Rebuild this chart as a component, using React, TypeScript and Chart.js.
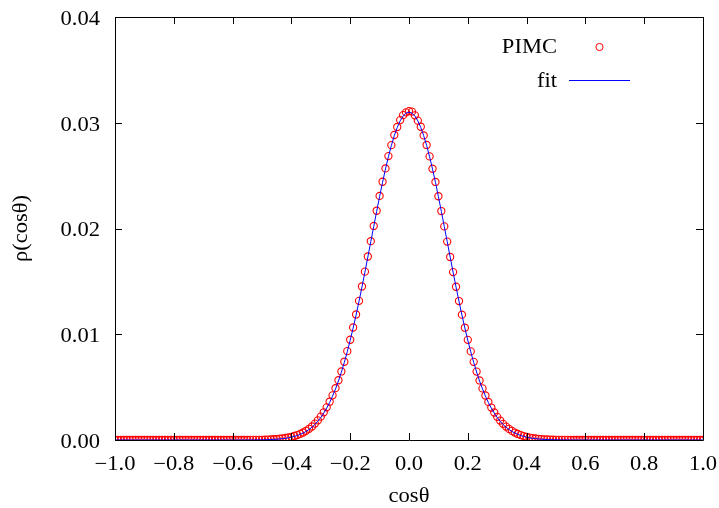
import React, { useEffect, useRef } from "react";
import { Chart, registerables } from "chart.js";

Chart.register(...registerables);

// sampling grid in cos(theta): -1.00 ... 1.00, step 0.01
const xStart = -1;
const xStep = 0.01;

// PIMC histogram values, cosθ = -1.00 ... 1.00
const pimcValues = [
  0, 0, 0, 0, 0, 0, 0, 0, 0, 0,
  0, 0, 0, 0, 0, 0, 0, 0, 0, 0,
  0, 0, 0, 0, 0, 0, 0, 0, 0, 0,
  0, 0, 0, 0, 0, 0, 0, 0, 0, 0,
  0, 0, 0, 0, 0,
  0.00000, 0.00001, 0.00001, 0.00001, 0.00002, 0.00002, 0.00003, 0.00004, 0.00005, 0.00007,
  0.00009, 0.00012, 0.00015, 0.00019, 0.00024, 0.00030, 0.00038, 0.00047, 0.00058, 0.00071,
  0.00087, 0.00106, 0.00128, 0.00155, 0.00186, 0.00221, 0.00262, 0.00309, 0.00362, 0.00422,
  0.00490, 0.00565, 0.00648, 0.00740, 0.00840, 0.00948, 0.01064, 0.01187, 0.01316, 0.01452,
  0.01592, 0.01735, 0.01880, 0.02024, 0.02168, 0.02308, 0.02442, 0.02568, 0.02685, 0.02788,
  0.02884, 0.02960, 0.03025, 0.03072, 0.03098,
  0.03110,
  0.03105, 0.03070, 0.03020, 0.02962, 0.02880, 0.02790, 0.02682, 0.02565, 0.02440, 0.02305,
  0.02165, 0.02020, 0.01876, 0.01731, 0.01588, 0.01449, 0.01314, 0.01185, 0.01062, 0.00947,
  0.00838, 0.00739, 0.00647, 0.00563, 0.00488, 0.00421, 0.00360, 0.00307, 0.00260, 0.00219,
  0.00184, 0.00153, 0.00127, 0.00105, 0.00086, 0.00070, 0.00057, 0.00046, 0.00037, 0.00029,
  0.00023, 0.00018, 0.00014, 0.00011, 0.00008, 0.00006, 0.00005, 0.00004, 0.00003, 0.00002,
  0.00002, 0.00001, 0.00001, 0.00001, 0.00000,
  0, 0, 0, 0, 0, 0, 0, 0, 0, 0,
  0, 0, 0, 0, 0, 0, 0, 0, 0, 0,
  0, 0, 0, 0, 0, 0, 0, 0, 0, 0,
  0, 0, 0, 0, 0, 0, 0, 0, 0, 0,
  0, 0, 0, 0, 0,
];

// fit curve values, cosθ = -1.00 ... 1.00
const fitValues = [
  0, 0, 0, 0, 0, 0, 0, 0, 0, 0,
  0, 0, 0, 0, 0, 0, 0, 0, 0, 0,
  0, 0, 0, 0, 0, 0, 0, 0, 0, 0,
  0, 0, 0, 0, 0, 0, 0, 0, 0, 0,
  0, 0, 0, 0, 0,
  0.000004, 0.000005, 0.000007, 0.00001, 0.000013, 0.000018, 0.000024, 0.000033, 0.000043, 0.000057,
  0.000075, 0.00010, 0.00013, 0.00016, 0.00021, 0.00027, 0.00034, 0.00042, 0.00053, 0.00066,
  0.00081, 0.00099, 0.00121, 0.00147, 0.00178, 0.00213, 0.00254, 0.00301, 0.00354, 0.00415,
  0.00483, 0.00558, 0.00642, 0.00734, 0.00834, 0.00943, 0.01059, 0.01182, 0.01312, 0.01447,
  0.01587, 0.01730, 0.01875, 0.02019, 0.02162, 0.02302, 0.02436, 0.02562, 0.02679, 0.02785,
  0.02878, 0.02956, 0.03018, 0.03063, 0.03091,
  0.03100,
  0.03091, 0.03063, 0.03018, 0.02956, 0.02878, 0.02785, 0.02679, 0.02562, 0.02436, 0.02302,
  0.02162, 0.02019, 0.01875, 0.01730, 0.01587, 0.01447, 0.01312, 0.01182, 0.01059, 0.00943,
  0.00834, 0.00734, 0.00642, 0.00558, 0.00483, 0.00415, 0.00354, 0.00301, 0.00254, 0.00213,
  0.00178, 0.00147, 0.00121, 0.00099, 0.00081, 0.00066, 0.00053, 0.00042, 0.00034, 0.00027,
  0.00021, 0.00016, 0.00013, 0.00010, 0.000075, 0.000057, 0.000043, 0.000033, 0.000024, 0.000018,
  0.000013, 0.00001, 0.000007, 0.000005, 0.000004,
  0, 0, 0, 0, 0, 0, 0, 0, 0, 0,
  0, 0, 0, 0, 0, 0, 0, 0, 0, 0,
  0, 0, 0, 0, 0, 0, 0, 0, 0, 0,
  0, 0, 0, 0, 0, 0, 0, 0, 0, 0,
  0, 0, 0, 0, 0,
];

const xTicks = [-1, -0.8, -0.6, -0.4, -0.2, 0, 0.2, 0.4, 0.6, 0.8, 1];
const xTickLabels = ["\u22121.0", "\u22120.8", "\u22120.6", "\u22120.4", "\u22120.2", "0.0", "0.2", "0.4", "0.6", "0.8", "1.0"];
const yTicks = [0, 0.01, 0.02, 0.03, 0.04];
const yTickLabels = ["0.00", "0.01", "0.02", "0.03", "0.04"];
const seriesNames = ["PIMC", "fit"];
const xTitle = "cosθ";
const yTitle = "ρ(cosθ)";

const FONT = "'Liberation Serif', 'Times New Roman', serif";
const FONT_SIZE = 20.5;
const SX = 1.1; // horizontal stretch of the text, as in the reference
const RED = "#ff0000";
const BLUE = "#0000ff";

function drawText(ctx: CanvasRenderingContext2D, s: string, x: number, y: number, align: CanvasTextAlign, rot = 0) {
  ctx.save();
  ctx.translate(x, y);
  if (rot) ctx.rotate(rot);
  ctx.scale(SX, 1);
  ctx.textAlign = align;
  ctx.textBaseline = "alphabetic";
  ctx.fillText(s, 0, 0);
  ctx.restore();
}

const framePlugin = {
  id: "frame",
  afterDraw(chart: any) {
    const { ctx, chartArea } = chart;
    const { left, right, top, bottom } = chartArea;
    const xs = chart.scales.x;
    const ys = chart.scales.y;
    const tl = 7;
    const base = FONT_SIZE * 0.33; // digit centre -> baseline offset
    ctx.save();
    ctx.strokeStyle = "#000";
    ctx.lineWidth = 1;
    ctx.beginPath();
    ctx.rect(Math.round(left) + 0.5, Math.round(top) + 0.5, Math.round(right - left), Math.round(bottom - top));
    ctx.stroke();
    ctx.beginPath();
    xTicks.forEach((v) => {
      const px = Math.round(xs.getPixelForValue(v)) + 0.5;
      ctx.moveTo(px, bottom);
      ctx.lineTo(px, bottom - tl);
      ctx.moveTo(px, top);
      ctx.lineTo(px, top + tl);
    });
    yTicks.forEach((v) => {
      const py = Math.round(ys.getPixelForValue(v)) + 0.5;
      ctx.moveTo(left, py);
      ctx.lineTo(left + tl, py);
      ctx.moveTo(right, py);
      ctx.lineTo(right - tl, py);
    });
    ctx.stroke();

    ctx.fillStyle = "#000";
    ctx.font = `${FONT_SIZE}px ${FONT}`;
    // tick labels
    xTicks.forEach((v, i) => {
      drawText(ctx, xTickLabels[i], xs.getPixelForValue(v), 463 + base, "center");
    });
    yTicks.forEach((v, i) => {
      drawText(ctx, yTickLabels[i], 100, ys.getPixelForValue(v) + 1 + base, "right");
    });
    // axis titles
    drawText(ctx, xTitle, (left + right) / 2, 495 + base, "center");
    drawText(ctx, yTitle, 20 + base, (top + bottom) / 2, "center", -Math.PI / 2);

    // key (gnuplot style)
    const textRight = 557;
    const sampleL = 569;
    const sampleR = 630;
    const row1 = 46;
    const row2 = 80;
    drawText(ctx, seriesNames[0], textRight, row1 + base, "right");
    drawText(ctx, seriesNames[1], textRight, row2 + base, "right");
    ctx.strokeStyle = RED;
    ctx.beginPath();
    ctx.arc((sampleL + sampleR) / 2, row1 + 1, 3.6, 0, Math.PI * 2);
    ctx.stroke();
    ctx.strokeStyle = BLUE;
    ctx.beginPath();
    ctx.moveTo(sampleL, row2 + 0.5);
    ctx.lineTo(sampleR, row2 + 0.5);
    ctx.stroke();
    ctx.restore();
  },
};

export default function App() {
  const ref = useRef<HTMLCanvasElement | null>(null);
  useEffect(() => {
    document.body.style.margin = "0";
    const canvas = ref.current;
    if (!canvas) return;
    const pimcData = pimcValues.map((y, i) => ({ x: xStart + i * xStep, y }));
    const fitData = fitValues.map((y, i) => ({ x: xStart + i * xStep, y }));
    const chart = new Chart(canvas, {
      type: "line",
      data: {
        datasets: [
          {
            label: seriesNames[1],
            data: fitData,
            borderColor: BLUE,
            borderWidth: 1,
            pointRadius: 0,
            fill: false,
            tension: 0,
          },
          {
            label: seriesNames[0],
            data: pimcData,
            showLine: false,
            borderColor: RED,
            backgroundColor: "rgba(0,0,0,0)",
            pointBorderColor: RED,
            pointBackgroundColor: "rgba(0,0,0,0)",
            pointBorderWidth: 1.1,
            pointRadius: 3.6,
            pointStyle: "circle",
          },
        ],
      },
      options: {
        responsive: false,
        devicePixelRatio: 1,
        animation: false,
        events: [],
        layout: { padding: { top: 17, right: 16, left: 0, bottom: 0 } },
        plugins: {
          legend: { display: false },
          tooltip: { enabled: false },
        },
        scales: {
          x: {
            type: "linear",
            min: -1,
            max: 1,
            grid: { display: false, drawTicks: false },
            border: { display: false },
            ticks: { display: false },
            title: { display: false },
            afterFit: (s: any) => {
              s.height = 68;
            },
          },
          y: {
            type: "linear",
            min: 0,
            max: 0.04,
            grid: { display: false, drawTicks: false },
            border: { display: false },
            ticks: { display: false },
            title: { display: false },
            afterFit: (s: any) => {
              s.width = 115;
            },
          },
        },
      },
      plugins: [framePlugin],
    } as any);
    return () => chart.destroy();
  }, []);
  return (
    <div style={{ width: 719, height: 508 }}>
      <canvas ref={ref} width={719} height={508} style={{ width: 719, height: 508, display: "block" }} />
    </div>
  );
}
